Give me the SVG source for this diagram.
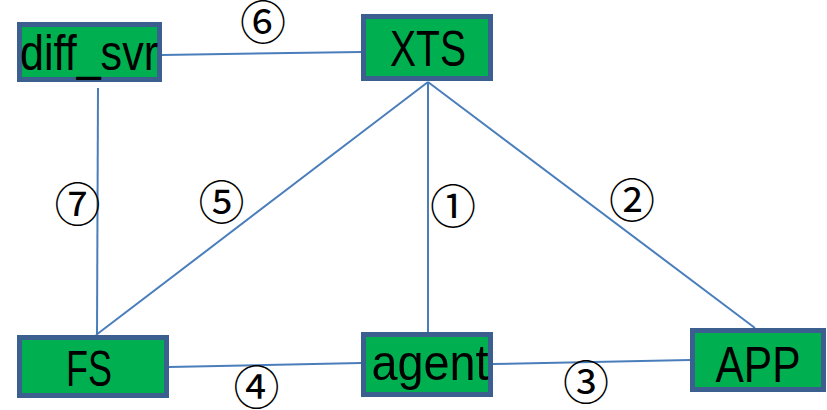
<svg xmlns="http://www.w3.org/2000/svg" width="827" height="410" viewBox="0 0 827 410">
<style>
.box{fill:#00b050;stroke:#3b5f8e;stroke-width:5}
.lbl{font-family:"Liberation Sans","Noto Sans",sans-serif;font-size:50px;fill:#000;text-anchor:middle}
.num{font-family:"Noto Sans CJK SC","DejaVu Sans",sans-serif;font-size:46px;fill:#000;text-anchor:middle}
.c{stroke:#4a7ebb;stroke-width:2;fill:none}
</style>
<rect width="827" height="410" fill="#fff"/>
<g id="connectors">
<line class="c" x1="162" y1="55" x2="361" y2="52"/>
<line class="c" x1="98" y1="88" x2="97" y2="335"/>
<line class="c" x1="428" y1="82" x2="96" y2="335"/>
<line class="c" x1="428" y1="82" x2="428" y2="332"/>
<line class="c" x1="428" y1="82" x2="755" y2="328"/>
<line class="c" x1="169" y1="367" x2="361" y2="363"/>
<line class="c" x1="493" y1="364" x2="690" y2="360"/>
</g>
<g id="diff_svr"><rect class="box" x="19.5" y="24.5" width="140" height="55"/><text class="lbl" x="89" y="70" textLength="138" lengthAdjust="spacingAndGlyphs">diff_svr</text></g>
<g id="XTS"><rect class="box" x="363.5" y="16.5" width="127" height="62"/><text class="lbl" x="428" y="66" textLength="76" lengthAdjust="spacingAndGlyphs">XTS</text></g>
<g id="FS"><rect class="box" x="19.5" y="337.5" width="147" height="58"/><text class="lbl" x="89" y="386" textLength="46" lengthAdjust="spacingAndGlyphs">FS</text></g>
<g id="agent"><rect class="box" x="363.5" y="334.5" width="127" height="60"/><text class="lbl" x="430" y="380" textLength="117" lengthAdjust="spacingAndGlyphs">agent</text></g>
<g id="APP"><rect class="box" x="692.5" y="330.5" width="131" height="59"/><text class="lbl" x="758" y="382" textLength="85" lengthAdjust="spacingAndGlyphs">APP</text></g>
<g id="labels">
<text class="num" x="263" y="38.5">⑥</text>
<text class="num" x="77.5" y="220.5">⑦</text>
<text class="num" x="221.5" y="219">⑤</text>
<text class="num" x="453" y="222.5">①</text>
<text class="num" x="632" y="216.5">②</text>
<text class="num" x="256.5" y="404">④</text>
<text class="num" x="586" y="398.5">③</text>
</g>
</svg>
